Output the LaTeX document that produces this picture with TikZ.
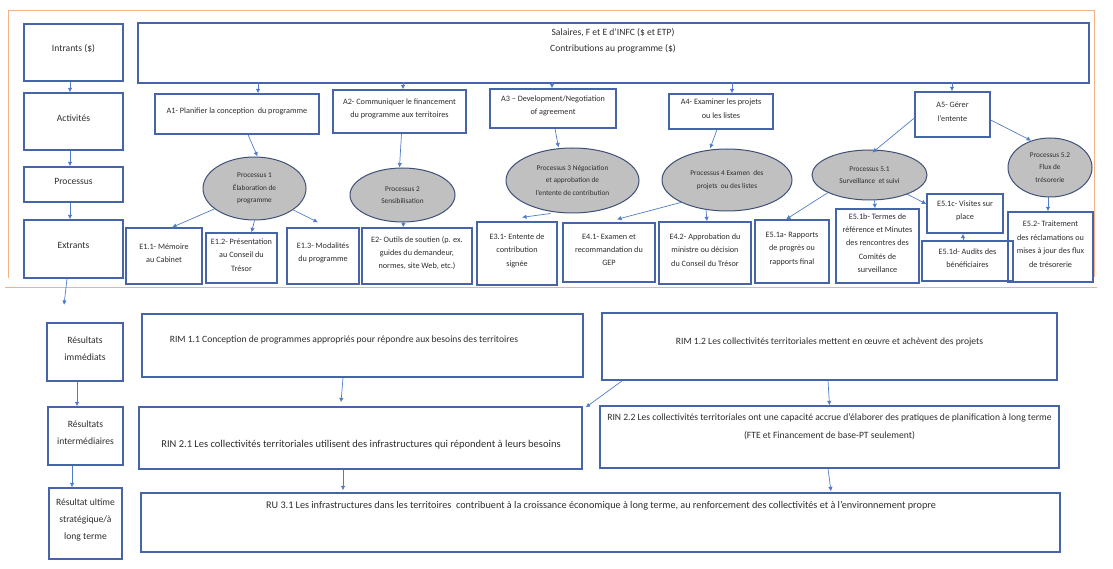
\documentclass[tikz,border=0pt]{standalone}
\usepackage{fontspec}
\setmainfont{Carlito}
\usetikzlibrary{fit,calc,arrows.meta,shapes.geometric}
\definecolor{boxc}{RGB}{70,100,168}
\definecolor{ellc}{RGB}{62,80,120}
\definecolor{ellfill}{RGB}{192,192,192}
\definecolor{arrc}{RGB}{78,124,200}
\definecolor{orng}{RGB}{244,177,131}
\definecolor{txtc}{RGB}{45,45,45}
\newcommand{\fsE}{\fontsize{8.2}{13.4}\selectfont}
\newcommand{\fsP}{\fontsize{7.3}{12.5}\selectfont}
\newcommand{\fsL}{\fontsize{9.6}{17}\selectfont}
\newcommand{\fsR}{\fontsize{9.6}{18}\selectfont}
\begin{document}
\begin{tikzpicture}[x=1pt,y=-1pt,
  box/.style={draw=boxc, line width=1.3pt, inner sep=0pt, align=center, text=txtc, font=\fsE},
  lbox/.style={box, font=\fsL},
  txt/.style={inner sep=0pt, align=center, text=txtc},
  proc/.style={ellipse, draw=ellc, line width=1pt, fill=ellfill, inner sep=0pt, align=center, text=txtc, font=\fsP},
  arr/.style={draw=arrc, line width=0.7pt, -{Latex[length=4.5pt,width=4.5pt]}},
  frame/.style={draw=orng, line width=1pt}]
\useasboundingbox (0,0) rectangle (1113,569);
% orange frame
\draw[frame] (8,278) -- (8,11) -- (1094,11) -- (1094,277);
\draw[frame] (5,287) -- (1097,287);
% left column
\node[lbox, fit={(24,24) (123,81)}] (In) {Intrants (\$)};
\node[lbox, fit={(24,93) (123,150)}] (Act) {Activités};
\node[lbox, fit={(24,167) (123,202)}] (Proc) {Processus};
\node[lbox, fit={(24,220) (123,278)}] (Ext) {Extrants};
\node[lbox, fit={(47,323) (123,381)}] (RI) {Résultats\\immédiats};
\node[lbox, fit={(48,407) (123,465)}] (RInt) {Résultats\\intermédiaires};
\node[lbox, fit={(49,488) (122,559)}] (RUL) {Résultat ultime\\stratégique/à\\long terme};
% top box
\node[box, fit={(138,23) (1089,83)}] (top) {};
\node[txt, font=\fsR] (topt) at (613,41) {Salaires, F et E d’INFC (\$ et ETP)\\[-2pt]Contributions au programme (\$)};
% activities
\node[box, fit={(155,94) (319,134)}] (A1) {A1- Planifier la conception\ \ du programme};
\node[box, fit={(333,90) (466,133)}] (A2) {A2- Communiquer le financement\\du programme aux territoires};
\node[box, fit={(490,89) (616,128)}] (A3) {A3 – Development/Negotiation\\of agreement};
\node[box, fit={(669,94) (773,129)}] (A4) {A4- Examiner les projets\\ou les listes};
\node[box, fit={(915,92) (990,137)}] (A5) {A5- Gérer\\l’entente};
% processes
\node[proc, minimum width=103pt, minimum height=63pt] (P1) at (254.5,188.5) {Processus 1\\Élaboration de\\programme};
\node[proc, minimum width=105pt, minimum height=54pt] (P2) at (402.5,195) {Processus 2\\Sensibilisation};
\node[proc, minimum width=133pt, minimum height=65pt] (P3) at (572.5,180.5) {Processus 3 Négociation\\et approbation de\\l’entente de contribution};
\node[proc, minimum width=130pt, minimum height=62pt] (P4) at (727,180) {Processus 4 Examen\ \ des\\projets\ \ ou des listes};
\node[proc, minimum width=115pt, minimum height=50pt] (P51) at (869.5,175) {Processus 5.1\\Surveillance\ \ et suivi};
\node[proc, minimum width=84pt, minimum height=59pt] (P52) at (1050,167.5) {Processus 5.2\\Flux de\\trésorerie};
% outputs
\node[box, fit={(126,228) (202,284)}] (E11) {E1.1- Mémoire\\au Cabinet};
\node[box, fit={(206,233) (277,283)}] (E12) {E1.2- Présentation\\au Conseil du\\Trésor};
\node[box, fit={(287,228) (359,284)}] (E13) {E1.3- Modalités\\du programme};
\node[box, fit={(362,228) (472,284)}] (E2) {E2- Outils de soutien (p. ex.\\guides du demandeur,\\normes, site Web, etc.)};
\node[box, fit={(477,222) (557,285)}] (E31) {E3.1- Entente de\\contribution\\signée};
\node[box, fit={(563,223) (655,282)}] (E41) {E4.1- Examen et\\recommandation du\\GEP};
\node[box, fit={(659,222) (751,284)}] (E42) {E4.2- Approbation du\\ministre ou décision\\du Conseil du Trésor};
\node[box, fit={(755,220) (829,283)}] (E51a) {E5.1a- Rapports\\de progrès ou\\rapports final};
\node[box, fit={(836,209) (919,283)}] (E51b) {E5.1b- Termes de\\référence et Minutes\\des rencontres des\\Comités de\\surveillance};
\node[box, fit={(927,194) (1003,233)}] (E51c) {E5.1c- Visites sur\\place};
\node[box, fit={(922,241) (1013,281)}] (E51d) {E5.1d- Audits des\\bénéficiaires};
\node[box, fit={(1008,212) (1093,282)}] (E52) {E5.2- Traitement\\des réclamations ou\\mises à jour des flux\\de trésorerie};
% results
\node[box, fit={(142,314) (583,377)}] (RIM11) {};
\node[txt, font=\fsR] (RIM11t) at (344,340) {RIM 1.1 Conception de programmes appropriés pour répondre aux besoins des territoires};
\node[box, fit={(602,313) (1057,380)}] (RIM12) {};
\node[txt, font=\fsR] (RIM12t) at (829.5,342) {RIM 1.2 Les collectivités territoriales mettent en œuvre et achèvent des projets};
\node[box, fit={(139,407) (582,469)}] (RIN21) {};
\node[txt, font=\fontsize{10.5}{18}\selectfont] (RIN21t) at (361,445) {RIN 2.1 Les collectivités territoriales utilisent des infrastructures qui répondent à leurs besoins};
\node[box, fit={(600,406) (1059,468)}] (RIN22) {};
\node[txt, font=\fsR] (RIN22t) at (829.5,427) {RIN 2.2 Les collectivités territoriales ont une capacité accrue d’élaborer des pratiques de planification à long terme\\(FTE et Financement de base-PT seulement)};
\node[box, fit={(141,493) (1060,552)}] (RU) {};
\node[txt, font=\fontsize{10.2}{18}\selectfont] (RUt) at (601,506) {RU 3.1 Les infrastructures dans les territoires\ \ contribuent à la croissance économique à long terme, au renforcement des collectivités et à l’environnement propre};
% left column arrows
\draw[arr] ([xshift=-3.5pt]In.south) -- ([xshift=-3.5pt]Act.north);
\draw[arr] ([xshift=-3.5pt]Act.south) -- ([xshift=-3.5pt]Proc.north);
\draw[arr] ([xshift=-3.5pt]Proc.south) -- ([xshift=-3.5pt]Ext.north);
\coordinate (extend) at (64,305);
\draw[arr] ([xshift=-6.5pt]Ext.south) -- (extend);
\draw[arr] ([xshift=-8pt]RI.south) -- ([xshift=-8.5pt]RInt.north);
\draw[arr] ([xshift=-13.5pt]RInt.south) -- ([xshift=-13.5pt]RUL.north);
% top box to activities
\draw[arr] ([xshift=21pt,yshift=11pt]A1.north) -- ([xshift=21pt]A1.north);
\draw[arr] ([xshift=3.5pt,yshift=7pt]A2.north) -- ([xshift=3.5pt]A2.north);
\draw[arr] ([xshift=-1pt,yshift=6pt]A3.north) -- ([xshift=-1pt]A3.north);
\draw[arr] ([xshift=11pt,yshift=11pt]A4.north) -- ([xshift=11pt]A4.north);
\draw[arr] ([xshift=-0.5pt,yshift=9pt]A5.north) -- ([xshift=-0.5pt]A5.north);
% activities to processes
\draw[arr] ([xshift=11pt]A1.south) -- ([xshift=3pt]P1.north);
\draw[arr] ([xshift=2pt]A2.south) -- ([xshift=-3pt]P2.north);
\draw[arr] ([xshift=2pt]A3.south) -- ([xshift=-14pt]P3.north);
\draw[arr] ([xshift=-4pt]A4.south) -- ([xshift=-17pt]P4.north);
\draw[arr] ([yshift=-3.5pt]A5.west) -- ([xshift=3pt,yshift=-3pt]P51.north);
\draw[arr] ([yshift=-5.5pt]A5.east) -- (P52.125);
% processes to outputs
\draw[arr] (P1.207) -- ([xshift=8pt]E11.north);
\draw[arr] (P1.south) -- ([xshift=10pt]E12.north);
\draw[arr] (P1.-29) -- ([xshift=-5pt,yshift=5pt]E13.north);
\draw[arr] ([xshift=1pt]P2.south) -- ([xshift=-14pt]E2.north);
\draw[arr] ([xshift=-22pt]P3.south) -- ([xshift=5pt,yshift=4pt]E31.north);
\draw[arr] (P4.206) -- ([xshift=8pt,yshift=3pt]E41.north);
\draw[arr] ([xshift=-21pt,yshift=2pt]P4.south) -- ([xshift=2pt]E42.north);
\draw[arr] (P51.203) -- ([xshift=-6pt]E51a.north);
\draw[arr] ([xshift=5pt]P51.south) -- ([xshift=-2.5pt]E51b.north);
\draw[arr] (P51.-27) -- ([yshift=9.5pt]E51c.west);
\draw[arr] ([xshift=-4.5pt]E51d.north) -- ([xshift=-2pt]E51c.south);
\draw[arr] ([xshift=-2pt]P52.south) -- ([xshift=-2.5pt]E52.north);
% results arrows
\draw[arr] ([xshift=-19.5pt]RIM11.south) -- ([xshift=-19.5pt,yshift=4pt]RIN21.north);
\draw[arr] ([xshift=21pt]RIM12.south west) -- ([xshift=3pt,yshift=-1pt]RIN21.north east);
\draw[arr] ([xshift=-1.5pt]RIM12.south) -- (RIN22.north);
\draw[arr] ([xshift=-17.5pt]RIN21.south) -- ([xshift=-257.5pt,yshift=2pt]RU.north);
\draw[arr] ([xshift=-1.5pt]RIN22.south) -- ([xshift=230.5pt,yshift=1pt]RU.north);
\end{tikzpicture}
\end{document}
